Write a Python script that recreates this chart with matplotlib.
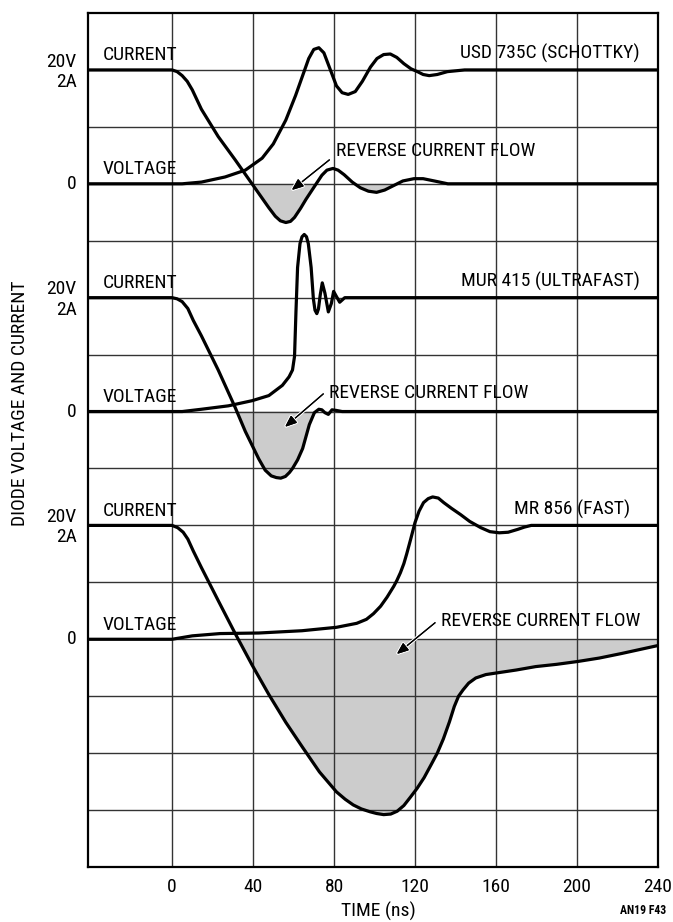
import matplotlib
matplotlib.use("Agg")
import matplotlib.pyplot as plt
import matplotlib.patheffects as pe

plt.rcParams['font.family'] = ['Roboto Condensed', 'Archivo Narrow', 'DejaVu Sans']

# grid units: one division per row, 15 rows; each trace pair has its own zero
# top pair: USD 735C (schottky)
t1_cur = [-41.5, 0, 2.5, 5, 7.5, 10, 14.5, 22.8, 31.2, 39.5, 47.8, 51, 53.5, 56.2, 58.5, 60.5,
          63.5, 66.2, 71.2, 74, 76.5, 79.5, 82, 85, 89, 93, 97, 101, 105, 109.5, 114, 119.5,
          124, 129.5, 136.2, 240]
y1_cur = [14, 14, 13.97, 13.9, 13.8, 13.65, 13.31, 12.83, 12.42, 12.0, 11.58, 11.43, 11.35, 11.32,
          11.34, 11.41, 11.57, 11.73, 12.0, 12.15, 12.24, 12.27, 12.24, 12.16, 12.03, 11.93,
          11.87, 11.85, 11.89, 11.97, 12.05, 12.09, 12.09, 12.05, 12.0, 12.0]
t1_volt = [-41.5, 5, 14.5, 26.2, 36.2, 44.5, 50, 56.2, 61, 64.5, 67.5, 70, 72.5, 75, 78, 81.2,
           84, 87, 90.5, 94, 98, 101.2, 104.5, 107.8, 111, 114.5, 118, 121.2, 124, 127, 131,
           136, 144.5, 240]
y1_volt = [12, 12, 12.03, 12.12, 12.24, 12.45, 12.7, 13.12, 13.55, 13.9, 14.2, 14.36, 14.39, 14.3,
           14.02, 13.72, 13.6, 13.57, 13.62, 13.8, 14.05, 14.2, 14.27, 14.28, 14.22, 14.11,
           14.02, 13.97, 13.92, 13.9, 13.92, 13.97, 14.0, 14.0]

# middle pair: MUR 415 (ultrafast)
t2_cur = [-41.5, 0, 2.5, 5, 7.8, 10.5, 14.5, 22.8, 31.2, 36.2, 42.8, 46, 49, 51.5, 53.7, 56, 58,
          59.5, 62, 64.5, 67.8, 70.3, 72.5, 74, 75.5, 77.2, 79, 81, 84, 240]
y2_cur = [10, 10, 9.98, 9.93, 9.81, 9.6, 9.33, 8.73, 8.07, 7.65, 7.17, 6.97, 6.87, 6.84, 6.83,
          6.86, 6.93, 7.0, 7.15, 7.35, 7.77, 7.98, 8.04, 8.03, 7.98, 7.95, 8.03, 8.02, 8.0, 8.0]
t2_volt = [-41.5, 5, 14.5, 27.8, 39.5, 47.8, 54.5, 57.8, 59.5, 60.5, 61.2, 62, 63.2, 64.2, 65.3,
           66.4, 67.3, 68.7, 69.8, 70.6, 71.5, 72.3, 73.2, 74.2, 75.5, 77.2, 78.7, 79.8, 81.2,
           82.8, 85.3, 240]
y2_volt = [8, 8, 8.04, 8.1, 8.19, 8.28, 8.46, 8.61, 8.73, 8.97, 9.75, 10.53, 10.95, 11.07, 11.11,
           11.07, 10.95, 10.53, 9.98, 9.78, 9.72, 9.8, 10.05, 10.26, 10.08, 9.75, 9.9, 10.11,
           10.02, 9.92, 10.0, 10.0]

# bottom pair: MR 856 (fast)
t3_cur = [-41.5, 0, 2.8, 5.5, 7.8, 10.5, 14.5, 22.8, 31.2, 39.5, 47.8, 56.2, 64.5, 72.8, 81.2,
          85.5, 89.5, 93.5, 97.8, 101, 104.5, 108, 111.2, 114.5, 117.8, 121, 124.5, 128, 131,
          134, 137, 139.4, 141.5, 143.7, 146.5, 150, 155, 160.6, 170, 179.6, 190, 200.4, 211,
          222, 231, 240]
y3_cur = [6, 6, 5.96, 5.88, 5.76, 5.55, 5.26, 4.68, 4.10, 3.55, 3.03, 2.54, 2.10, 1.67, 1.32,
          1.19, 1.09, 1.02, 0.97, 0.94, 0.92, 0.93, 0.98, 1.08, 1.23, 1.38, 1.57, 1.8, 2.0,
          2.25, 2.55, 2.82, 3.0, 3.11, 3.23, 3.32, 3.38, 3.41, 3.46, 3.52, 3.56, 3.61, 3.67,
          3.75, 3.82, 3.89]
t3_volt = [-41.5, 0, 10, 23.7, 42.9, 64.2, 81.2, 91.2, 96, 99.5, 103, 106.2, 109.5, 111, 112.8,
           114.5, 115.9, 117.8, 120, 122, 124.2, 126.5, 128.7, 131.5, 134.2, 138, 142.5, 147,
           152.5, 157, 161.6, 166, 170.7, 174, 177.4, 240]
y3_volt = [4, 4, 4.06, 4.1, 4.11, 4.15, 4.21, 4.28, 4.35, 4.45, 4.58, 4.74, 4.93, 5.03, 5.17,
           5.33, 5.5, 5.75, 6.05, 6.25, 6.4, 6.47, 6.5, 6.48, 6.4, 6.3, 6.19, 6.07, 5.96, 5.89,
           5.87, 5.88, 5.93, 5.97, 6.0, 6.0]

zeros = [12, 8, 4]
full_scale = [14, 10, 6]
diode_names = ['USD 735C (SCHOTTKY)', 'MUR 415 (ULTRAFAST)', 'MR 856 (FAST)']
name_x = [231, 231, 226]
# arrow tail (text side) and head for each "reverse current flow" note
note_text_pos = [(80.8, 12.49), (77.7, 8.24), (132.7, 4.23)]
arrow_tail = [(77.7, 12.42), (74.7, 8.31), (129.9, 4.29)]
arrow_head = [(59.1, 11.89), (55.8, 7.73), (111.0, 3.74)]

time_ticks = [0, 40, 80, 120, 160, 200, 240]

FS = 14

fig = plt.figure(figsize=(6.73, 9.22), dpi=100)
ax = fig.add_axes([88 / 673, 1 - 867 / 922, 570 / 673, 854 / 922])
ax.set_xlim(-41.5, 240)
ax.set_ylim(0, 15)

# grid
ax.set_axisbelow('line')
ax.set_xticks(time_ticks)
ax.set_xticklabels([str(t) for t in time_ticks], fontsize=FS)
ax.set_yticks(range(1, 15))
ax.set_yticklabels([])
ax.tick_params(length=0, pad=8)
ax.grid(True, color='#333333', lw=1.0)
for s in ax.spines.values():
    s.set_linewidth(1.6)

traces = [(t1_cur, y1_cur, t1_volt, y1_volt),
          (t2_cur, y2_cur, t2_volt, y2_volt),
          (t3_cur, y3_cur, t3_volt, y3_volt)]

ytr = ax.get_yaxis_transform()
for i, (tc, yc, tv, yv) in enumerate(traces):
    z = zeros[i]
    fs = full_scale[i]
    ax.fill_between(tc, z, yc, where=[v < z for v in yc], interpolate=True,
                    color='#cccccc', lw=0, zorder=1)
    ax.plot(tc, yc, color='black', lw=2.3, solid_joinstyle='round', solid_capstyle='round', zorder=3)
    ax.plot(tv, yv, color='black', lw=2.3, solid_joinstyle='round', solid_capstyle='round', zorder=3)

    ax.text(-34.1, fs + 0.17, 'CURRENT', fontsize=FS, va='baseline', zorder=4)
    ax.text(-34.1, z + 0.17, 'VOLTAGE', fontsize=FS, va='baseline', zorder=4)
    ax.text(name_x[i], fs + 0.19, diode_names[i], fontsize=FS, ha='right', va='baseline')

    ax.text(-0.02, fs + 0.06, '20V', fontsize=FS, ha='right', va='baseline', transform=ytr)
    ax.text(-0.02, fs - 0.30, '2A', fontsize=FS, ha='right', va='baseline', transform=ytr)
    ax.text(-0.02, z, '0', fontsize=FS, ha='right', va='center', transform=ytr)

    ax.text(note_text_pos[i][0], note_text_pos[i][1], 'REVERSE CURRENT FLOW',
            fontsize=FS, va='baseline')
    ann = ax.annotate('', xy=arrow_head[i], xytext=arrow_tail[i],
                      arrowprops=dict(arrowstyle='-|>,head_length=0.7,head_width=0.28',
                                      color='black', lw=0.9, shrinkA=0, shrinkB=0),
                      zorder=5)
    ann.arrow_patch.set_path_effects([pe.withStroke(linewidth=2.5, foreground='white'),
                                      pe.Normal()])

fig.text(20 / 673, 1 - 403 / 922, 'DIODE VOLTAGE AND CURRENT', rotation=90,
         fontsize=FS, ha='center', va='center')
fig.text(378 / 673, 1 - 917 / 922, 'TIME (ns)', fontsize=FS, ha='center', va='baseline')
fig.text(666 / 673, 1 - 914 / 922, 'AN19 F43', fontsize=8.5, fontweight='bold',
         ha='right', va='baseline')

fig.savefig('out.png', dpi=100)
